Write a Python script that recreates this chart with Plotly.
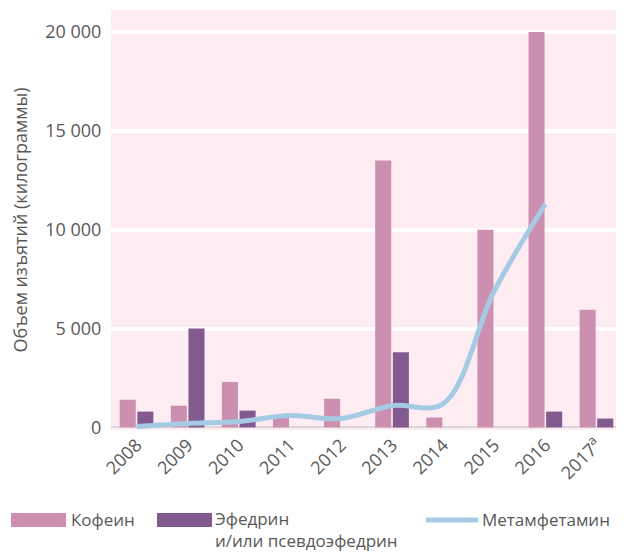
import plotly.graph_objects as go

# ---- data ----
years = ["2008", "2009", "2010", "2011", "2012", "2013", "2014", "2015", "2016", "2017<sup>a</sup>"]
caffeine = [1400, 1100, 2300, 500, 1450, 13500, 500, 10000, 20000, 5950]
ephedrine = [800, 5000, 850, 0, 0, 3800, 0, 0, 800, 450]
meth = [50, 200, 300, 600, 450, 1100, 1200, 6900, 11300, None]
y_ticks = [0, 5000, 10000, 15000, 20000]

names = ["Кофеин", "Эфедрин<br>и/или псевдоэфедрин", "Метамфетамин"]
y_title = "Объем изъятий (килограммы)"

# ---- style ----
OFF = 8  # page body margin offset
SW, SH = 624, 552
W, H = SW - OFF, SH - OFF
# plot area in screen pixels
PL, PR, PT, PB = 111, 622, 10, 430
L, R, T, B = PL - OFF, SW - PR, PT - OFF, SH - PB
C_CAF = "#cc8fb0"
C_EPH = "#825a8f"
C_METH = "#a4cae4"
BG = "#fdedf3"
TXT = "#595959"
FONT = "Open Sans"
FS = 18
LFS = 17

fig = go.Figure()
fig.add_trace(go.Bar(x=years, y=caffeine, name=names[0], marker_color=C_CAF, marker_line_width=0))
fig.add_trace(go.Bar(x=years, y=ephedrine, name=names[1], marker_color=C_EPH, marker_line_width=0))
fig.add_trace(go.Scatter(x=years, y=meth, name=names[2], mode="lines",
                         line=dict(color=C_METH, width=5, shape="spline", smoothing=1)))

pw = PR - PL
ph = PB - PT


def px_x(x):
    return (x - PL) / pw


def px_y(y):
    return (PB - y) / ph


shapes = [
    dict(type="rect", xref="paper", yref="paper", x0=px_x(11), x1=px_x(66), y0=px_y(527), y1=px_y(513),
         fillcolor=C_CAF, line_width=0),
    dict(type="rect", xref="paper", yref="paper", x0=px_x(157), x1=px_x(212), y0=px_y(527), y1=px_y(513),
         fillcolor=C_EPH, line_width=0),
    dict(type="line", xref="paper", yref="paper", x0=px_x(426), x1=px_x(478), y0=px_y(520), y1=px_y(520),
         line=dict(color=C_METH, width=5)),
]


def ann(x, y, text):
    return dict(xref="paper", yref="paper", x=px_x(x), y=px_y(y), text=text, showarrow=False,
                xanchor="left", yanchor="middle", align="left", borderpad=0,
                font=dict(size=LFS, color=TXT, family=FONT))


annotations = [
    ann(70, 520, names[0]),
    ann(214, 529, names[1]),
    ann(481, 520, names[2]),
]

fig.update_layout(
    width=W, height=H,
    margin=dict(l=L, r=R, t=T, b=B, autoexpand=False),
    paper_bgcolor="white", plot_bgcolor=BG,
    showlegend=False,
    barmode="group", bargap=0.31, bargroupgap=0.09,
    separators=", ",
    font=dict(family=FONT, size=FS, color=TXT),
    shapes=shapes, annotations=annotations,
    xaxis=dict(showgrid=False, tickangle=-45, tickfont=dict(size=FS, color=TXT),
               ticks="", showline=False, automargin=False),
    yaxis=dict(range=[-130, 21110], tickvals=y_ticks, tickformat=",d",
               showgrid=True, gridcolor="white", gridwidth=4,
               zeroline=True, zerolinecolor="#d9d9d9", zerolinewidth=2,
               ticks="outside", ticklen=5, tickcolor="rgba(0,0,0,0)",
               tickfont=dict(size=FS, color=TXT), automargin=False,
               title=dict(text=y_title, font=dict(size=FS, color=TXT), standoff=20)),
)

fig.write_html("out.html")
